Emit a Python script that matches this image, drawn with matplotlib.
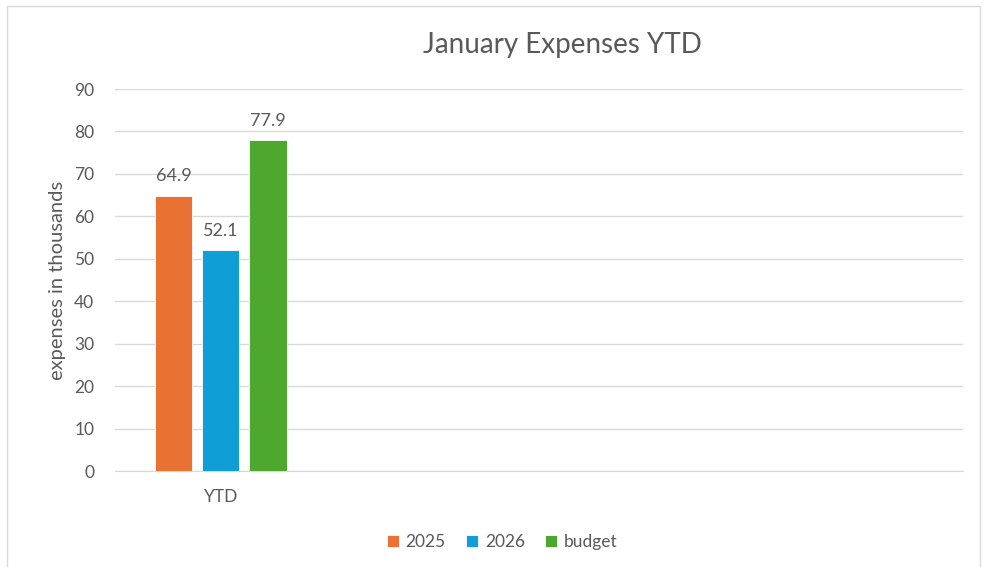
import matplotlib.pyplot as plt
from matplotlib.patches import Rectangle

# data
categories = ["YTD", "", "", ""]
series_names = ["2025", "2026", "budget"]
values_2025 = [64.9, None, None, None]
values_2026 = [52.1, None, None, None]
values_budget = [77.9, None, None, None]
y_ticks = [0, 10, 20, 30, 40, 50, 60, 70, 80, 90]

colors = ["#E97132", "#0F9ED5", "#4EA72E"]
text_gray = "#595959"
grid_gray = "#D9D9D9"

plt.rcParams["font.family"] = ["Lato", "DejaVu Sans"]

fig = plt.figure(figsize=(9.87, 5.67), dpi=100)
ax = fig.add_axes([115 / 987, 1 - 471 / 567, 848 / 987, 382 / 567])

# chart frame like excel
fig.patches.append(Rectangle((7 / 987, -0.1), 973 / 987, 1.1 - 6 / 567,
                             transform=fig.transFigure, fill=False,
                             edgecolor=grid_gray, linewidth=1))

bar_w = 0.177
offsets = [-0.224, -0.002, 0.222]
all_series = [values_2025, values_2026, values_budget]
for name, vals, off, col in zip(series_names, all_series, offsets, colors):
    xs = [i + off for i, v in enumerate(vals) if v is not None]
    ys = [v for v in vals if v is not None]
    bars = ax.bar(xs, ys, width=bar_w, color=col, label=name,
                  edgecolor="white", linewidth=0.6, zorder=3)
    for b, v in zip(bars, ys):
        ax.annotate(f"{v}", (b.get_x() + b.get_width() / 2, v),
                    xytext=(0, 8), textcoords="offset points",
                    ha="center", va="bottom", fontsize=13, color=text_gray)

ax.set_xlim(-0.5, len(categories) - 0.5)
ax.set_ylim(0, 90)
ax.set_yticks(y_ticks)
ax.set_xticks(range(len(categories)))
ax.set_xticklabels(categories)
ax.tick_params(axis="both", length=0, colors=text_gray, labelsize=12.5)
ax.tick_params(axis="y", pad=15)
ax.tick_params(axis="x", pad=13)
ax.grid(axis="y", color=grid_gray, linewidth=1, zorder=0)
for s in ["top", "right", "left"]:
    ax.spines[s].set_visible(False)
ax.spines["bottom"].set_color(grid_gray)

ax.set_ylabel("expenses in thousands", color=text_gray, fontsize=14.5, labelpad=6)

fig.text(562 / 987, 1 - 45 / 567, "January Expenses YTD", ha="center", va="center",
         fontsize=20, color=text_gray)

fig.legend(loc="center", bbox_to_anchor=(502 / 987, 1 - 542 / 567), ncol=3,
           frameon=False, fontsize=12.5, labelcolor=text_gray,
           handlelength=0.7, handleheight=0.7, handletextpad=0.4, columnspacing=1.15)

fig.savefig("out.png", dpi=100, facecolor="white")
